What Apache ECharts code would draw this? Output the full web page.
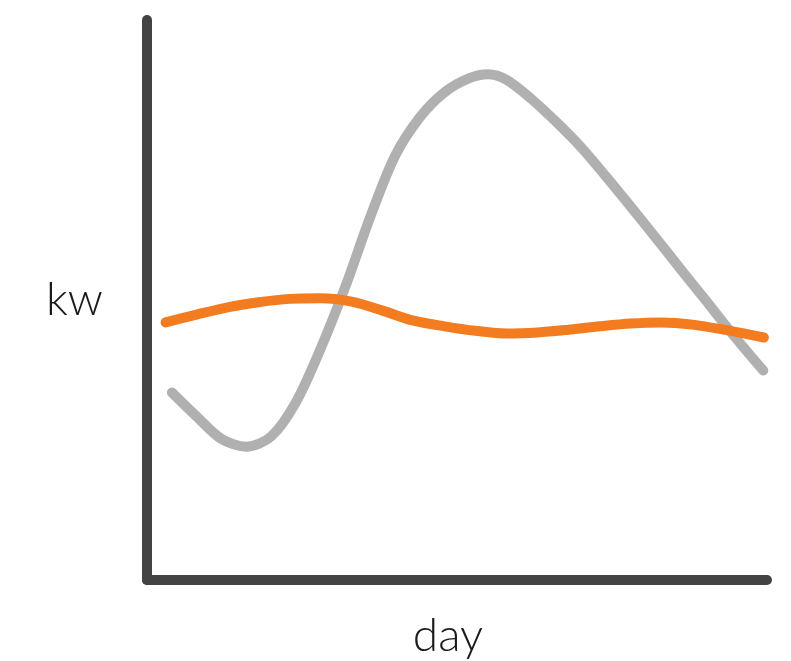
<!DOCTYPE html>
<html>
<head>
<meta charset="utf-8">
<script src="https://cdn.jsdelivr.net/npm/echarts@6/dist/echarts.min.js"></script>
<style>
html,body{margin:0;padding:0;background:#fff;}
#chart{width:791px;height:661px;}
</style>
</head>
<body>
<div id="chart"></div>
<script>
// x: day position (0-100), y: kw (0-100)
var grayX = [4, 8, 12, 16, 20, 24, 28, 32, 36, 40, 44, 48, 52, 55, 58, 62, 66, 70, 74, 78, 82, 86, 90, 94, 99.4];
var grayY = [33.5, 29.2, 25.2, 23.8, 25.6, 31.7, 41.3, 52.4, 64.8, 75.7, 82.6, 87.1, 89.6, 90.3, 89.3, 85.9, 81.8, 77.3, 72.1, 66.7, 61.2, 55.6, 50.1, 44.5, 37.4];
var orangeX = [3, 8, 13, 18, 23, 28, 33, 38, 43, 48, 53, 58, 63, 68, 73, 78, 83, 88, 93, 99.5];
var orangeY = [46.0, 47.4, 48.7, 49.6, 50.2, 50.3, 49.7, 48.1, 46.3, 45.3, 44.5, 44.0, 44.2, 44.7, 45.3, 45.8, 46.0, 45.6, 44.7, 43.3];
var xName = 'day';
var yName = 'kw';

function pairs(xs, ys) { return xs.map(function (x, i) { return [x, ys[i]]; }); }

var chart = echarts.init(document.getElementById('chart'), null, {renderer: 'canvas'});
var axisLine = {show: true, lineStyle: {color: '#434345', width: 10, cap: 'round'}};
chart.setOption({
  animation: false,
  backgroundColor: '#ffffff',
  grid: {left: 147, right: 24, top: 20, bottom: 81, containLabel: false, outerBoundsMode: 'none'},
  xAxis: {
    type: 'value', min: 0, max: 100,
    name: xName, nameLocation: 'middle', nameGap: 56,
    nameTextStyle: {fontFamily: 'Lato', fontWeight: 300, fontSize: 46, color: '#1a1a1a', verticalAlign: 'middle', padding: [0, 18, 0, 0]},
    axisLine: axisLine, axisTick: {show: false}, axisLabel: {show: false}, splitLine: {show: false}
  },
  yAxis: {
    type: 'value', min: 0, max: 100,
    name: yName, nameLocation: 'middle', nameGap: 44, nameRotate: 0,
    nameTextStyle: {fontFamily: 'Lato', fontWeight: 300, fontSize: 46, color: '#1a1a1a', align: 'right', verticalAlign: 'middle'},
    axisLine: axisLine, axisTick: {show: false}, axisLabel: {show: false}, splitLine: {show: false}
  },
  series: [
    {
      type: 'line', data: pairs(grayX, grayY), smooth: 0.3, showSymbol: false, symbol: 'none',
      lineStyle: {color: '#b0b0b0', width: 10, cap: 'round', join: 'round'}, z: 2
    },
    {
      type: 'line', data: pairs(orangeX, orangeY), smooth: 0.3, showSymbol: false, symbol: 'none',
      lineStyle: {color: '#f47c20', width: 10, cap: 'round', join: 'round'}, z: 3
    }
  ]
});
</script>
</body>
</html>
